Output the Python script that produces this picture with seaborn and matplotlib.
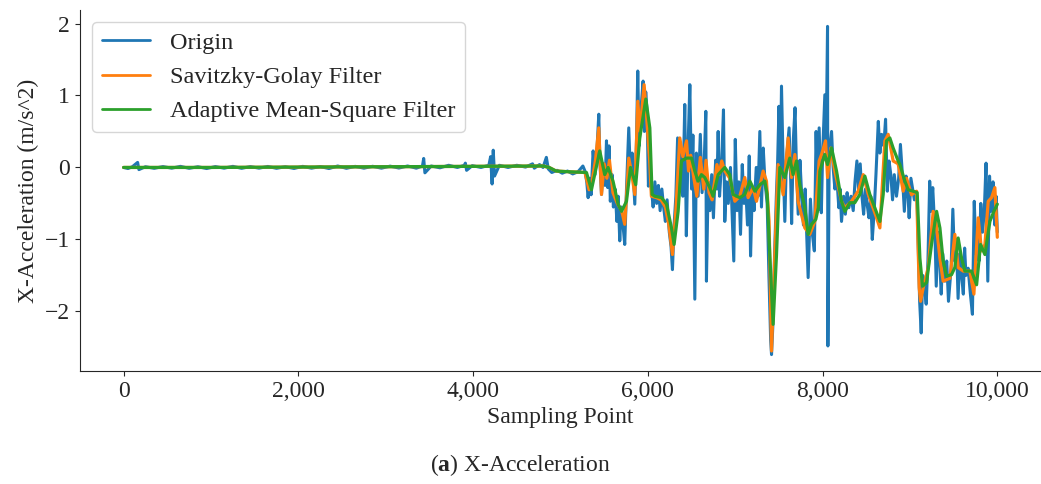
import matplotlib
matplotlib.use('Agg')
import matplotlib.pyplot as plt
from matplotlib.ticker import FuncFormatter
import numpy as np
import pandas as pd
import seaborn as sns

# Origin signal (sampling point, m/s^2)
origin_x = [0, 50, 100, 160, 175, 250, 350, 450, 550, 650, 750, 850, 950, 1050, 1150, 1250,
            1350, 1450, 1550, 1650, 1750, 1850, 1950, 2050, 2150, 2250, 2350, 2450, 2550, 2650,
            2750, 2850, 2950, 3050, 3150, 3250, 3350, 3420, 3434, 3448, 3520, 3620, 3720, 3820,
            3900, 3911, 3925, 3990, 4090, 4180, 4200, 4217, 4230, 4245, 4300, 4400, 4500, 4600,
            4680, 4700, 4760, 4800, 4838, 4860, 4900, 4960, 5020, 5080, 5140, 5200, 5256, 5280,
            5300, 5316, 5335, 5350, 5373, 5395, 5415, 5438, 5450, 5469, 5490, 5510, 5526, 5540,
            5555, 5570, 5590, 5605, 5625, 5645, 5660, 5678, 5695, 5715, 5735, 5755, 5781, 5800,
            5820, 5850, 5870, 5884, 5900, 5920, 5945, 5960, 5975, 5990, 6006, 6020, 6040, 6060,
            6080, 6100, 6120, 6140, 6160, 6180, 6200, 6220, 6245, 6265, 6281, 6300, 6320, 6340,
            6360, 6380, 6400, 6422, 6440, 6460, 6480, 6500, 6515, 6537, 6555, 6575, 6600, 6620,
            6645, 6663, 6670, 6690, 6710, 6730, 6750, 6775, 6790, 6804, 6820, 6845, 6865, 6880,
            6900, 6920, 6945, 6983, 7000, 7020, 7040, 7060, 7080, 7100, 7120, 7140, 7160, 7175,
            7195, 7215, 7240, 7260, 7281, 7300, 7320, 7340, 7365, 7385, 7405, 7415, 7430, 7450,
            7470, 7485, 7500, 7515, 7529, 7545, 7567, 7585, 7616, 7635, 7645, 7665, 7684, 7700,
            7720, 7740, 7760, 7780, 7800, 7834, 7860, 7880, 7905, 7925, 7945, 7960, 7985, 8000,
            8025, 8040, 8056, 8060, 8075, 8102, 8120, 8140, 8160, 8185, 8200, 8216, 8240, 8260,
            8280, 8300, 8325, 8350, 8370, 8392, 8410, 8430, 8450, 8469, 8490, 8510, 8530, 8550,
            8568, 8590, 8610, 8637, 8655, 8675, 8700, 8720, 8740, 8760, 8780, 8800, 8820, 8845,
            8870, 8890, 8910, 8935, 8955, 8975, 8990, 9010, 9030, 9050, 9080, 9110, 9128, 9145,
            9165, 9185, 9205, 9225, 9240, 9260, 9285, 9300, 9320, 9340, 9357, 9375, 9400, 9420,
            9440, 9470, 9490, 9510, 9530, 9550, 9570, 9590, 9610, 9625, 9640, 9665, 9690, 9714,
            9735, 9755, 9775, 9790, 9810, 9830, 9850, 9870, 9890, 9910, 9930, 9950, 9970, 9985,
            9999]
origin_y = [0.0, -0.015, 0.01, 0.07, -0.03, 0.01, -0.012, 0.012, -0.01, 0.015, -0.012, 0.01,
            -0.015, 0.012, -0.01, 0.015, -0.012, 0.012, -0.01, 0.014, -0.012, 0.01, -0.014, 0.015,
            -0.01, 0.012, -0.015, 0.02, -0.012, 0.015, -0.01, 0.016, -0.01, 0.018, -0.008, 0.02,
            -0.01, 0.02, 0.125, -0.075, 0.02, -0.005, 0.03, 0.0, 0.03, 0.06, -0.04, 0.025, 0.0,
            0.03, 0.15, -0.23, 0.24, -0.12, 0.03, 0.0, 0.03, 0.005, 0.05, -0.01, 0.04, 0.0, 0.14,
            -0.02, -0.07, -0.04, -0.08, -0.05, -0.09, -0.06, 0.02, -0.05,
            -0.20, -0.42, -0.15, -0.38, 0.23, -0.10, 0.20, 0.74, 0.10, -0.375, 0.05, -0.25, 0.37,
            -0.28, 0.30, -0.47, -0.10, -0.55, -0.30, -0.75, -0.40, -1.02, -0.55, -0.80, -1.07,
            -0.30, 0.55, -0.10, 0.20, -0.51, 0.40, 1.34, 0.30, 0.80, 1.20, 0.50, 1.05, 0.80,
            -0.26, 0.10, -0.30, -0.55, -0.20, -0.50, -0.25, -0.60, -0.30, -0.55, -0.75, -0.45,
            -0.90, -1.10, -1.42, -0.80, -0.40, 0.41, -0.30, 0.20, -0.40, 0.875, -0.95, 0.30, 1.15,
            -0.30, 0.45, -1.83, 0.20, -0.40, 0.46, -0.35, 0.10, 0.78, -1.58, -0.20, -0.60, -0.10,
            -0.70, 0.10, -0.30, 0.50, -0.40, 0.10, 0.80, -0.75, -0.20, -0.50, 0.00, -1.30, 0.39,
            -0.60, -0.20, -0.93, 0.04, -0.50, -0.30, -0.80, 0.16, -1.23, -0.30, -0.60, 0.00, -0.40,
            0.50, -0.55, 0.27, -0.20, -0.50, -1.50, -2.40, -2.60, -2.20, -1.20, -0.40, 0.09, 0.85,
            -0.20, 1.13, 0.20, -0.75, 0.10, 0.55, -0.20, -0.78, 0.40, 0.83, 0.00, -0.65, 0.10,
            -0.38, -0.80, -0.30, -1.53, -0.44, -0.90, -1.16, 0.50, -0.60, 0.55, -0.63, 0.20, 1.01,
            0.30, 1.96, -2.48, 0.20, 0.50, 0.00, -0.30, -0.10, -0.56, -0.30, -0.75, -0.40, -0.65,
            -0.35, -0.56, -0.40, -0.60, -0.20, 0.09, -0.30, 0.05, -0.40, -0.65, -0.30, -0.52,
            -0.70, -0.40, -1.00, -0.60, -0.10, 0.64, 0.20, 0.46, 0.30, 0.67, -0.33, 0.09, -0.10,
            -0.45, -0.10, -0.40, -0.15, 0.32, -0.05, -0.61, -0.12, -0.35, -0.70, -0.15, -0.30,
            -0.45, -0.40, -1.86, -2.30, -1.50, -1.65, -1.90, -1.30, -0.19, -0.61, -0.28, -0.90,
            -1.65, -0.90, -1.30, -1.76, -1.20, -1.58, -1.30, -1.86, -1.40, -0.58, -1.30, -1.00,
            -1.82, -1.20, -1.50, -1.76, -1.12, -1.50, -1.40, -1.75, -2.04, -0.47, -1.20, -0.84,
            -1.30, -0.50, -0.90, -0.60, 0.06, -1.58, -0.12, -0.61, -0.20, -0.80, -0.40, -0.90]

# Savitzky-Golay filtered signal
sg_x = [0, 1000, 2000, 3000, 4000, 4800, 4870, 4950, 5100, 5280, 5327, 5360, 5400, 5438, 5469,
        5500, 5530, 5560, 5600, 5650, 5700, 5735, 5760, 5781, 5810, 5850, 5884, 5910, 5957,
        5985, 6020, 6040, 6100, 6150, 6200, 6240, 6281, 6320, 6365, 6400, 6442, 6465, 6490,
        6525, 6560, 6600, 6640, 6665, 6700, 6735, 6790, 6815, 6845, 6880, 6937, 6995, 7052,
        7109, 7147, 7204, 7243, 7319, 7357, 7387, 7415, 7453, 7490, 7548, 7605, 7644, 7682,
        7719, 7796, 7853, 7910, 7960, 7987, 8033, 8056, 8094, 8139, 8216, 8254, 8330, 8406,
        8464, 8521, 8617, 8655, 8712, 8750, 8807, 8864, 8922, 8960, 9017, 9075, 9105, 9121,
        9151, 9208, 9265, 9296, 9342, 9379, 9456, 9513, 9551, 9608, 9685, 9731, 9780, 9819,
        9857, 9895, 9933, 9971, 9999]
sg_y = [0.0, 0.0, 0.005, 0.01, 0.015, 0.02, 0.0, -0.05, -0.06, -0.07, -0.31, -0.20, 0.10, 0.55,
        -0.375, 0.05, -0.15, 0.10, -0.35, -0.50, -0.60, -0.79, -0.30, 0.13, -0.05, -0.375, 0.92,
        0.50, 1.15, 0.70, 0.10, -0.40, -0.42, -0.45, -0.55, -0.80, -1.21, -0.60, 0.41, 0.15,
        0.37, -0.05, 0.17, -0.14, -0.40, 0.14, -0.30, 0.10, -0.35, -0.45, 0.04, -0.10, 0.09,
        -0.05, -0.15, -0.47, -0.40, -0.14, -0.42, -0.28, -0.47, -0.05, -0.19, -0.75, -2.55,
        -1.20, 0.04, -0.38, 0.41, -0.14, 0.18, -0.47, -0.84, -0.93, -0.75, 0.09, 0.18, 0.37,
        -0.14, 0.27, -0.05, -0.47, -0.56, -0.47, -0.33, -0.10, -0.37, -0.70, -0.84, 0.37, 0.46,
        0.09, 0.05, -0.33, -0.15, -0.38, -0.33, -1.67, -1.86, -1.67, -1.39, -0.61, -0.75, -1.26,
        -1.58, -1.54, -0.93, -1.39, -1.44, -1.44, -1.76, -0.70, -1.16, -1.07, -0.47, -0.42,
        -0.28, -0.97]

# Adaptive mean-square filtered signal
ams_x = [0, 1000, 2000, 3000, 4000, 4800, 4870, 4950, 5100, 5297, 5354, 5449, 5506, 5544, 5601,
         5659, 5698, 5755, 5801, 5861, 5907, 5976, 6022, 6048, 6079, 6156, 6213, 6270, 6300,
         6346, 6384, 6442, 6499, 6537, 6575, 6613, 6651, 6708, 6746, 6804, 6880, 6937, 6975,
         7052, 7109, 7167, 7224, 7281, 7338, 7365, 7395, 7433, 7472, 7510, 7567, 7624, 7662,
         7701, 7739, 7796, 7834, 7873, 7922, 7950, 7968, 8025, 8056, 8102, 8159, 8216, 8254,
         8311, 8368, 8426, 8483, 8540, 8597, 8655, 8693, 8731, 8769, 8807, 8864, 8884, 8941,
         8979, 9036, 9082, 9113, 9143, 9189, 9246, 9304, 9342, 9379, 9418, 9475, 9513, 9551,
         9590, 9628, 9704, 9762, 9807, 9857, 9914, 9960, 9999]
ams_y = [0.0, 0.0, 0.005, 0.01, 0.015, 0.02, 0.0, -0.05, -0.06, -0.07, -0.31, 0.23, -0.10, 0.0,
         -0.19, -0.51, -0.61, -0.47, 0.0, -0.24, 0.41, 0.95, 0.55, -0.375, -0.40, -0.42, -0.51,
         -0.84, -1.07, -0.61, 0.09, 0.13, 0.13, -0.05, -0.19, -0.10, -0.14, -0.28, -0.40, -0.10,
         0.0, -0.10, -0.375, -0.42, -0.375, -0.19, -0.33, -0.24, -0.19, -0.375, -1.21, -2.18,
         -1.21, 0.0, -0.14, 0.13, -0.10, 0.09, -0.24, -0.56, -0.93, -0.79, -0.72, -0.56, -0.05,
         0.18, 0.04, 0.27, -0.05, -0.47, -0.61, -0.49, -0.49, -0.375, -0.12, -0.375, -0.56,
         -0.75, -0.375, 0.37, 0.41, 0.27, 0.09, 0.04, -0.19, -0.31, -0.33, -0.35, -1.26, -1.65,
         -1.60, -1.07, -0.61, -0.84, -1.30, -1.51, -1.49, -1.39, -0.98, -1.26, -1.44, -1.44,
         -1.63, -1.07, -1.21, -0.75, -0.61, -0.51]

origin = pd.DataFrame({'Sampling Point': origin_x, 'X-Acceleration': origin_y})
sg = pd.DataFrame({'Sampling Point': sg_x, 'X-Acceleration': sg_y})
ams = pd.DataFrame({'Sampling Point': ams_x, 'X-Acceleration': ams_y})

sns.set_style('ticks')
plt.rcParams['font.family'] = ['Liberation Serif', 'DejaVu Serif']
plt.rcParams['mathtext.fontset'] = 'custom'
plt.rcParams['mathtext.rm'] = 'Liberation Serif'
plt.rcParams['mathtext.bf'] = 'Liberation Serif:bold'

fig = plt.figure(figsize=(10.41, 4.84), dpi=100)
ax = fig.add_axes([0.0768, 0.2335, 0.9232, 0.7459])

pal = sns.color_palette('tab10')
sns.lineplot(data=origin, x='Sampling Point', y='X-Acceleration', ax=ax, color=pal[0],
             linewidth=2.2, estimator=None, sort=False, label='Origin')
sns.lineplot(data=sg, x='Sampling Point', y='X-Acceleration', ax=ax, color=pal[1],
             linewidth=2.3, estimator=None, sort=False, label='Savitzky-Golay Filter')
sns.lineplot(data=ams, x='Sampling Point', y='X-Acceleration', ax=ax, color=pal[2],
             linewidth=2.3, estimator=None, sort=False, label='Adaptive Mean-Square Filter')

sns.despine(ax=ax)
ax.set_xticks([0, 2000, 4000, 6000, 8000, 10000])
ax.set_yticks([-2, -1, 0, 1, 2])
ax.xaxis.set_major_formatter(FuncFormatter(lambda v, p: f'{int(v):,}'))
ax.tick_params(labelsize=17)
ax.set_xlabel('Sampling Point', fontsize=17)
ax.set_ylabel('X-Acceleration (m/s^2)', fontsize=17)
leg = ax.legend(loc='upper left', fontsize=17.5)
for line in leg.get_lines():
    line.set_linewidth(2.0)

fig.text(0.5, 0.04, r'($\mathbf{a}$) X-Acceleration', ha='center', va='center', fontsize=17)

fig.savefig('out.png', dpi=100)
